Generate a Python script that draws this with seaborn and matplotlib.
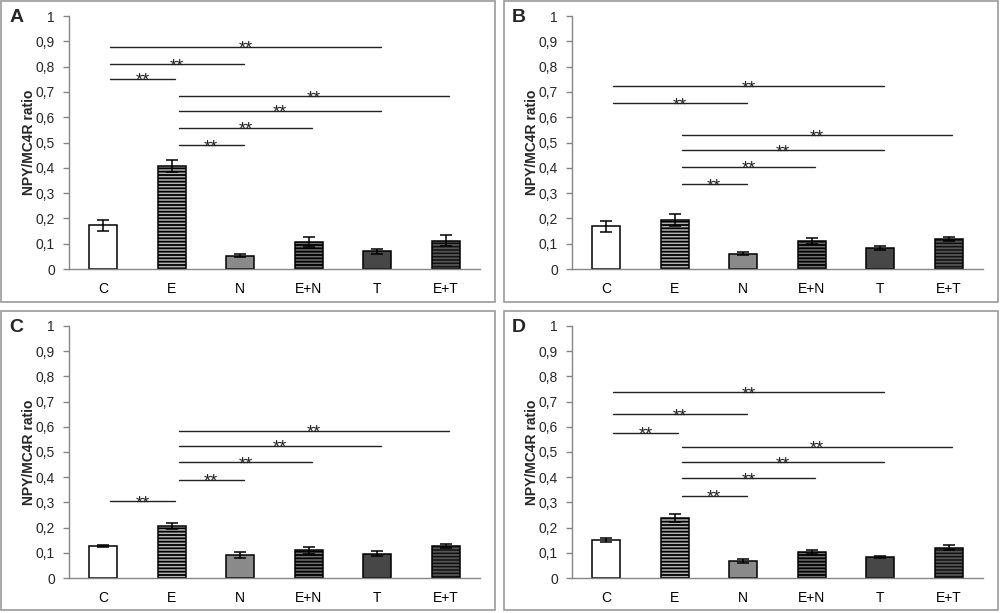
import numpy as np
import pandas as pd
import seaborn as sns
import matplotlib
matplotlib.use("Agg")
import matplotlib.pyplot as plt
from matplotlib.patches import Rectangle

# ---------------- data ----------------
categories = ["C", "E", "N", "E+N", "T", "E+T"]

means_A = [0.172, 0.407, 0.053, 0.107, 0.070, 0.111]
err_A = [0.021, 0.025, 0.006, 0.021, 0.009, 0.022]
means_B = [0.169, 0.194, 0.061, 0.112, 0.083, 0.120]
err_B = [0.022, 0.025, 0.006, 0.012, 0.008, 0.008]
means_C = [0.126, 0.206, 0.090, 0.110, 0.097, 0.127]
err_C = [0.003, 0.013, 0.012, 0.013, 0.010, 0.008]
means_D = [0.150, 0.237, 0.068, 0.105, 0.084, 0.121]
err_D = [0.008, 0.016, 0.008, 0.008, 0.004, 0.008]

sig_A = [("C", "T", 0.879), ("C", "N", 0.810), ("C", "E", 0.751),
         ("E", "E+T", 0.682), ("E", "T", 0.625), ("E", "E+N", 0.559), ("E", "N", 0.489)]
sig_B = [("C", "T", 0.722), ("C", "N", 0.655),
         ("E", "E+T", 0.528), ("E", "T", 0.470), ("E", "E+N", 0.405), ("E", "N", 0.335)]
sig_C = [("E", "E+T", 0.584), ("E", "T", 0.525), ("E", "E+N", 0.460), ("E", "N", 0.390),
         ("C", "E", 0.305)]
sig_D = [("C", "T", 0.737), ("C", "N", 0.650), ("C", "E", 0.577),
         ("E", "E+T", 0.521), ("E", "T", 0.460), ("E", "E+N", 0.395), ("E", "N", 0.326)]

panel_letters = ["A", "B", "C", "D"]
sig_label = "**"
y_label = "NPY/MC4R ratio"

# ---------------- style ----------------
sns.set_theme(style="white")
plt.rcParams["font.family"] = ["Liberation Sans", "DejaVu Sans"]
plt.rcParams["hatch.linewidth"] = 1.3

face_colors = ["#ffffff", "#b4b4b4", "#8a8a8a", "#707070", "#474747", "#101010"]
hatches = ["", "-----", "", "-----", "", "-----"]
hatch_colors = ["#000000", "#000000", "#000000", "#000000", "#000000", "#555555"]
axis_gray = "#868686"

fig = plt.figure(figsize=(10, 6.13), dpi=100)

W, H = 1000, 613
ax_boxes = [(69, 16, 411, 253), (572, 16, 411, 253),
            (69, 326, 411, 252), (572, 326, 411, 252)]
frames = [(1, 1, 494, 301), (504, 1, 494, 301), (1, 311, 494, 299), (504, 311, 494, 299)]
letter_pos = [(17, 17), (519, 17), (16, 328), (519, 328)]

panels = [(means_A, err_A, sig_A), (means_B, err_B, sig_B),
          (means_C, err_C, sig_C), (means_D, err_D, sig_D)]

for (x0, y0, w, h) in frames:
    fig.patches.append(Rectangle((x0 / W, 1 - (y0 + h) / H), w / W, h / H,
                                 transform=fig.transFigure, fill=False,
                                 edgecolor="#9a9a9a", linewidth=1.2))

for k, (means, errs, sigs) in enumerate(panels):
    x0, y0, w, h = ax_boxes[k]
    ax = fig.add_axes([x0 / W, 1 - (y0 + h) / H, w / W, h / H])
    df = pd.DataFrame({"group": categories, "ratio": means})
    sns.barplot(data=df, x="group", y="ratio", hue="group", order=categories,
                hue_order=categories, palette=dict(zip(categories, face_colors)),
                width=0.41, linewidth=0, saturation=1, errorbar=None,
                legend=False, ax=ax)
    for patch, ht, hc in zip(ax.patches, hatches, hatch_colors):
        patch.set_hatch(ht)
        patch.set_edgecolor(hc)
        patch.set_linewidth(0)
    # outlines
    sns.barplot(data=df, x="group", y="ratio", order=categories, fill=False,
                color="black", width=0.41, linewidth=1.1, errorbar=None, ax=ax)
    xpos = np.arange(len(categories))
    ax.errorbar(xpos, means, yerr=errs, fmt="none", ecolor="black",
                elinewidth=1.1, capsize=4, capthick=1.1, zorder=5)

    # significance lines
    for a, b, yv in sigs:
        i, j = categories.index(a), categories.index(b)
        xs, xe = i + 0.1, j + 0.05
        ax.plot([xs, xe], [yv, yv], color="#222222", linewidth=1.0)
        ax.annotate(sig_label, xy=((xs + xe) / 2, yv), xytext=(0, -5),
                    textcoords="offset points", ha="center", va="baseline",
                    fontsize=13, color="#222222")

    ax.set_xlim(-0.5, len(categories) - 0.5)
    ax.set_ylim(0, 1)
    yt = np.round(np.arange(0, 1.01, 0.1), 1)
    ax.set_yticks(yt)
    ax.set_yticklabels([("0" if v == 0 else "1" if v == 1 else f"{v:.1f}".replace(".", ","))
                        for v in yt], fontsize=10)
    ax.set_xticks(xpos)
    ax.set_xticklabels(categories, fontsize=10)
    ax.set_xticks(np.arange(-0.5, len(categories), 1.0), minor=True)
    ax.tick_params(axis="x", which="major", length=0, pad=9, colors="black")
    ax.tick_params(axis="x", which="minor", length=4, width=1, color=axis_gray, direction="out")
    ax.tick_params(axis="y", which="major", length=4, width=1, color=axis_gray,
                   direction="out", pad=6, left=True)
    ax.set_xlabel("")
    ax.set_ylabel(y_label, fontsize=10, fontweight="bold", labelpad=0)
    for s in ["top", "right"]:
        ax.spines[s].set_visible(False)
    for s in ["left", "bottom"]:
        ax.spines[s].set_color(axis_gray)
        ax.spines[s].set_linewidth(1.0)
    ax.set_facecolor("none")

    lx, ly = letter_pos[k]
    fig.text(lx / W, 1 - ly / H, panel_letters[k], fontsize=14, fontweight="bold",
             ha="center", va="center")

fig.savefig("out.png", dpi=100)
